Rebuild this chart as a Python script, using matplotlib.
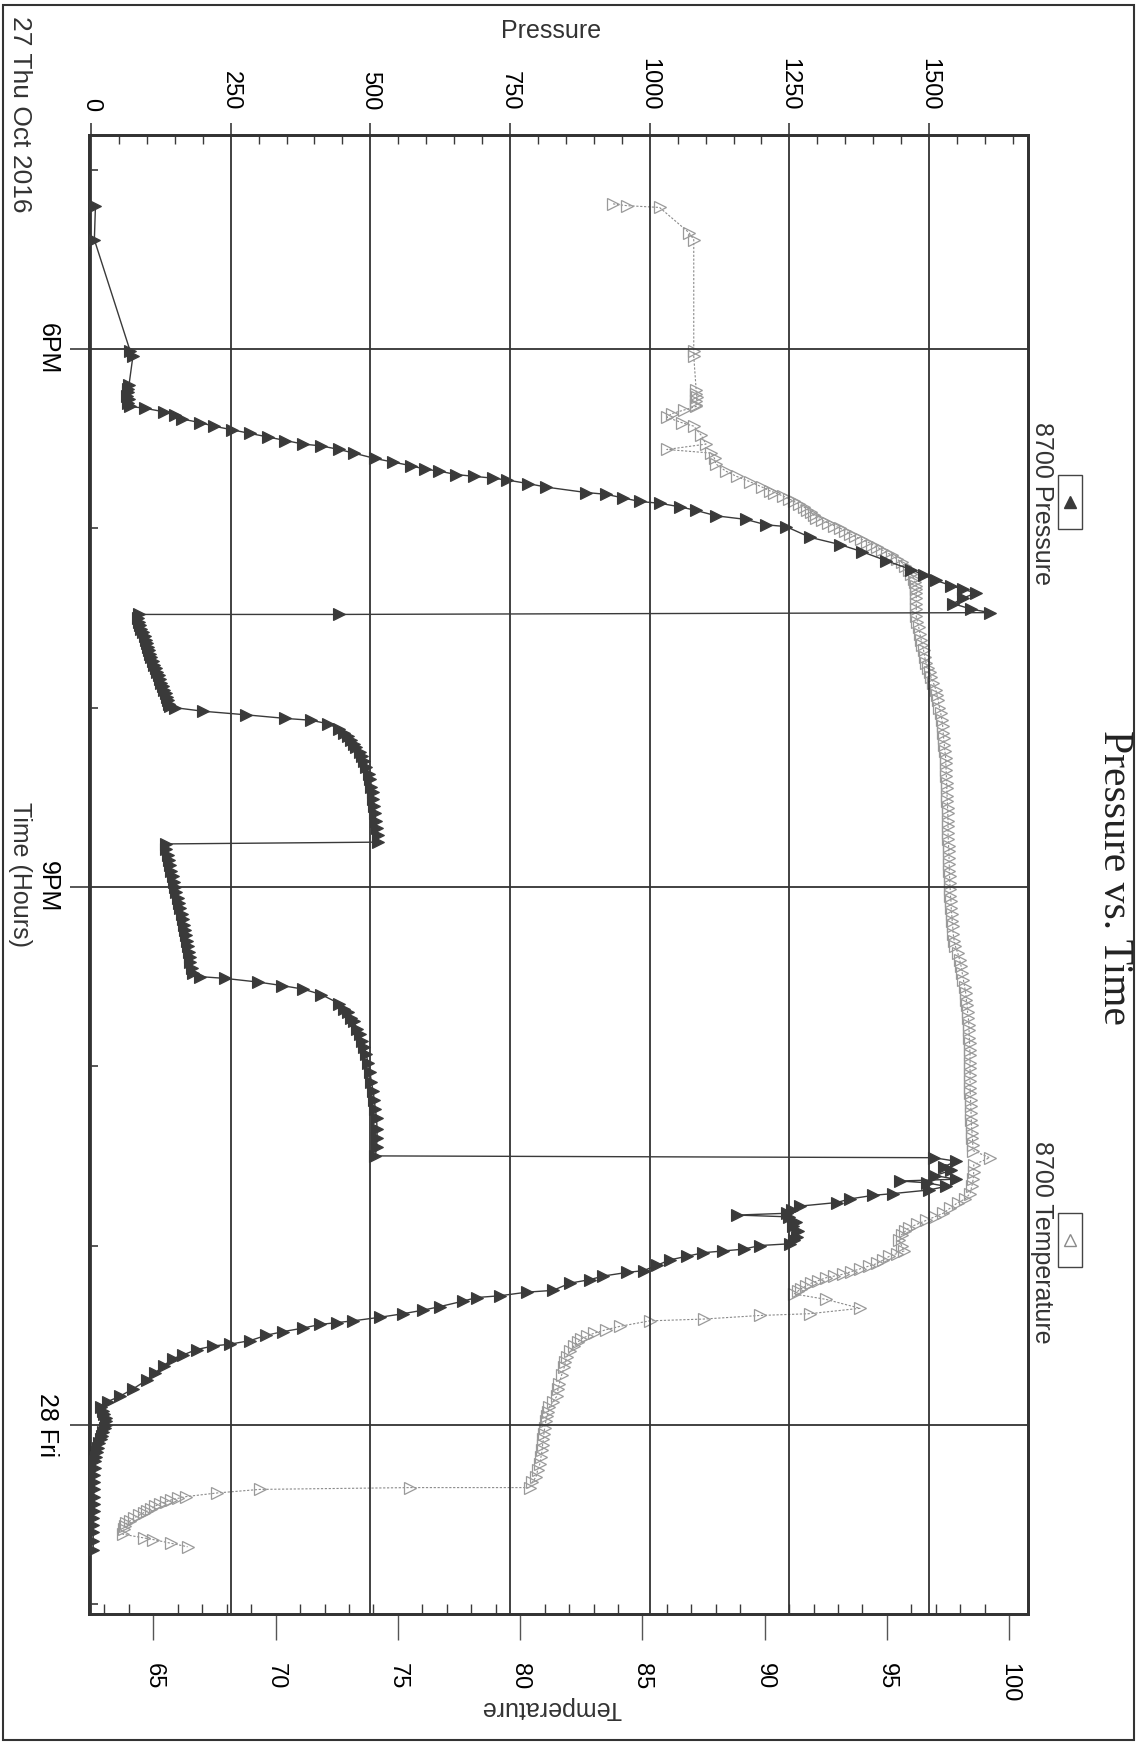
import matplotlib
matplotlib.use('Agg')
import matplotlib.pyplot as plt
from matplotlib.ticker import MultipleLocator
from matplotlib.patches import Rectangle
from matplotlib.lines import Line2D

plt.rcParams['font.family'] = ['Liberation Sans', 'DejaVu Sans']

# time in hours since 27 Oct 00:00
p_time = [17.20, 17.39, 18.01, 18.04, 18.20, 18.22, 18.24, 18.26, 18.28, 18.30, 18.32,
          18.33, 18.35, 18.37, 18.39, 18.41, 18.43, 18.45, 18.47, 18.49, 18.51, 18.53,
          18.54, 18.56, 18.58, 18.61, 18.63, 18.65, 18.67, 18.68, 18.70, 18.71, 18.72,
          18.73, 18.75, 18.77, 18.80, 18.81, 18.83, 18.85, 18.86, 18.88, 18.90, 18.93,
          18.95, 18.98, 18.99, 19.05, 19.09, 19.13, 19.18, 19.23, 19.26, 19.29, 19.32,
          19.34, 19.36, 19.39, 19.42, 19.45, 19.47, 19.48, 19.48,
          19.50, 19.52, 19.54, 19.56, 19.58, 19.60, 19.62, 19.64, 19.66, 19.68, 19.70,
          19.72, 19.74, 19.76, 19.78, 19.80, 19.82, 19.84, 19.86, 19.88, 19.90, 19.92,
          19.94, 19.96, 19.98, 19.99,
          20.00, 20.02, 20.04, 20.06, 20.07, 20.09, 20.12, 20.14, 20.16, 20.18, 20.20,
          20.22, 20.25, 20.27, 20.30, 20.33, 20.37, 20.40, 20.44, 20.47, 20.51, 20.55,
          20.59, 20.63, 20.67, 20.71, 20.75, 20.76,
          20.79, 20.82, 20.85, 20.88, 20.91, 20.94, 20.97, 21.00, 21.03, 21.06, 21.09,
          21.12, 21.15, 21.18, 21.21, 21.24, 21.27, 21.30, 21.33, 21.36, 21.39, 21.42,
          21.45, 21.48,
          21.50, 21.51, 21.53, 21.55, 21.57, 21.60, 21.65, 21.68, 21.70, 21.73, 21.75,
          21.79, 21.82, 21.86, 21.89, 21.93, 21.98, 22.03, 22.09, 22.14, 22.19, 22.24,
          22.29, 22.35, 22.40, 22.45, 22.50, 22.51,
          22.53, 22.56, 22.58, 22.61, 22.63, 22.64, 22.65, 22.67, 22.69, 22.71, 22.72,
          22.74, 22.76, 22.78, 22.80, 22.82, 22.83, 22.84, 22.87, 22.89, 22.92, 22.95,
          22.97, 22.99, 23.00, 23.02, 23.03, 23.04, 23.06, 23.08, 23.11, 23.14, 23.15,
          23.17, 23.19, 23.21, 23.25, 23.26, 23.28, 23.29, 23.31, 23.34, 23.36, 23.38,
          23.40, 23.42, 23.43, 23.44, 23.46, 23.48, 23.50, 23.53, 23.55, 23.56, 23.58,
          23.61, 23.63, 23.67, 23.71, 23.75, 23.80, 23.84, 23.87,
          23.90, 23.92, 23.94, 23.96, 23.98, 24.00, 24.02, 24.04, 24.06, 24.08, 24.10,
          24.13, 24.15, 24.18, 24.20, 24.24, 24.28, 24.32, 24.36, 24.40, 24.44, 24.48,
          24.52, 24.56, 24.60, 24.65, 24.70]
p_val = [8, 6, 70, 75, 68, 66, 67, 65, 68, 67, 70,
         96, 131, 150, 163, 195, 220, 252, 284, 316, 348, 380,
         412, 444, 470, 508, 540, 572, 598, 622, 654, 686, 719,
         744, 782, 815, 886, 922, 952, 982, 1018, 1054, 1083, 1119,
         1172, 1208, 1244, 1287, 1340, 1380, 1423, 1468, 1490, 1512, 1540,
         1561, 1584, 1560, 1543, 1575, 1609, 444, 86,
         84, 86, 88, 90, 93, 96, 98, 100, 102, 104, 106,
         108, 111, 113, 116, 118, 121, 124, 126, 129, 131, 134,
         136, 138, 140, 141,
         150, 201, 278, 348, 393, 425, 444, 452, 460, 465, 470,
         475, 481, 485, 489, 493, 497, 500, 502, 504, 505, 507,
         508, 510, 511, 513, 514, 134,
         135, 137, 139, 141, 144, 146, 149, 151, 153, 155, 158,
         160, 162, 164, 166, 168, 170, 172, 174, 175, 177, 178,
         180, 182,
         195, 240, 298, 342, 380, 412, 444, 453, 460, 465, 470,
         476, 481, 485, 489, 492, 496, 499, 502, 505, 507, 509,
         511, 512, 512, 511, 509, 1508,
         1549, 1526, 1540, 1510, 1549, 1448, 1496, 1530, 1500, 1436, 1400,
         1358, 1335, 1269, 1255, 1245, 1156, 1250, 1262, 1257, 1265, 1263,
         1258, 1251, 1197, 1168, 1132, 1096, 1066, 1036, 1013, 989, 959,
         917, 893, 857, 827, 780, 732, 690, 666, 625, 595, 559,
         517, 469, 440, 410, 380, 344, 314, 285, 249, 219, 189,
         165, 147, 130, 115, 100, 75, 52, 30,
         18, 22, 24, 26, 27, 26, 25, 22, 20, 17, 14,
         12, 10, 9, 8, 7, 6, 6, 5, 5, 5, 5,
         4, 4, 4, 4, 4]

t_time = [17.19, 17.20, 17.21, 17.35, 17.39, 18.01, 18.04, 18.23, 18.25, 18.27, 18.29,
          18.31, 18.32, 18.34, 18.36, 18.38, 18.41, 18.43, 18.48, 18.53, 18.56, 18.58,
          18.61, 18.64, 18.68, 18.71, 18.74,
          18.77, 18.79, 18.80, 18.82, 18.835, 18.85, 18.865, 18.88, 18.895, 18.91, 18.925,
          18.94, 18.955, 18.97, 18.985, 19.00, 19.015, 19.03, 19.045, 19.06, 19.075, 19.09,
          19.105, 19.12, 19.135, 19.15, 19.17, 19.19, 19.21, 19.23, 19.255, 19.28, 19.30,
          19.32, 19.34, 19.36, 19.39,
          19.42, 19.45, 19.49, 19.52, 19.55, 19.59, 19.62, 19.65, 19.68, 19.72, 19.75,
          19.78, 19.80, 19.83, 19.86, 19.90, 19.93, 19.96, 20.00, 20.03, 20.07, 20.10,
          20.14, 20.17, 20.21, 20.24, 20.28, 20.31, 20.35, 20.38, 20.42, 20.45, 20.49,
          20.52, 20.56, 20.59, 20.63, 20.66, 20.70, 20.73, 20.77, 20.80, 20.84, 20.87,
          20.91, 20.94, 20.98, 21.01, 21.05, 21.08, 21.12, 21.15, 21.19, 21.22, 21.26,
          21.30, 21.33, 21.37, 21.41, 21.44, 21.48, 21.52, 21.56, 21.59, 21.63, 21.66,
          21.70, 21.73, 21.77, 21.80, 21.84, 21.87, 21.91, 21.94, 21.98, 22.01, 22.05,
          22.08, 22.12, 22.15, 22.19, 22.22, 22.26, 22.30, 22.33, 22.37, 22.40, 22.44,
          22.47, 22.51, 22.55, 22.59, 22.63, 22.67,
          22.71, 22.74, 22.76, 22.79, 22.82, 22.84, 22.86, 22.88, 22.90, 22.92, 22.94,
          22.97, 23.00, 23.03, 23.045, 23.06, 23.08, 23.10, 23.115, 23.13, 23.145, 23.16,
          23.17, 23.18, 23.195, 23.21, 23.225, 23.24, 23.255, 23.27,
          23.30, 23.35, 23.38, 23.39, 23.41, 23.42,
          23.45, 23.47, 23.49, 23.505, 23.52, 23.54, 23.56, 23.59, 23.62, 23.65, 23.68,
          23.72, 23.77, 23.80, 23.84, 23.87, 23.90, 23.93, 23.95, 23.98, 24.02, 24.05,
          24.08, 24.11, 24.14, 24.18, 24.22, 24.25, 24.29, 24.32, 24.35,
          24.35, 24.36, 24.38, 24.40, 24.41, 24.42, 24.43, 24.44, 24.455, 24.47, 24.48,
          24.49, 24.505, 24.52, 24.535, 24.55, 24.565, 24.58, 24.61, 24.63, 24.64, 24.66,
          24.68]
t_val = [83.8, 84.35, 85.7, 86.9, 87.1, 87.1, 87.1, 87.2, 87.2, 87.25, 87.2,
         87.2, 87.2, 86.7, 86.2, 86.0, 86.6, 87.1, 87.4, 87.6, 86.0, 87.8,
         87.95, 88.0, 88.4, 88.85, 89.4,
         89.9, 90.2, 90.4, 90.75, 91.0, 91.2, 91.4, 91.6, 91.75, 91.9, 92.0,
         92.1, 92.35, 92.6, 92.85, 93.1, 93.3, 93.5, 93.7, 93.95, 94.2, 94.4,
         94.6, 94.8, 95.0, 95.2, 95.4, 95.6, 95.75, 95.9, 96.0, 96.1, 96.15,
         96.2, 96.2, 96.2, 96.2,
         96.2, 96.2, 96.2, 96.25, 96.3, 96.35, 96.4, 96.45, 96.5, 96.55, 96.6,
         96.7, 96.75, 96.8, 96.9, 97.0, 97.05, 97.1, 97.15, 97.2, 97.25, 97.28,
         97.3, 97.32, 97.35, 97.37, 97.4, 97.41, 97.42, 97.43, 97.44, 97.45, 97.46,
         97.47, 97.48, 97.49, 97.5, 97.5, 97.5, 97.51, 97.52, 97.53, 97.54, 97.55,
         97.55, 97.56, 97.57, 97.58, 97.6, 97.62, 97.63, 97.65, 97.67, 97.69, 97.71,
         97.75, 97.8, 97.9, 97.98, 98.03, 98.08, 98.13, 98.18, 98.22, 98.25, 98.28,
         98.3, 98.33, 98.35, 98.36, 98.37, 98.38, 98.39, 98.4, 98.4, 98.4, 98.4,
         98.4, 98.4, 98.41, 98.42, 98.43, 98.44, 98.45, 98.46, 98.48, 98.5, 98.51,
         98.52, 99.2, 98.55, 98.55, 98.53, 98.47,
         98.4, 98.2, 97.9, 97.6, 97.3, 96.95, 96.6, 96.25, 95.9, 95.75, 95.6,
         95.5, 95.6, 95.7, 95.4, 95.1, 94.85, 94.6, 94.25, 93.9, 93.55, 93.2,
         92.85, 92.5, 92.2, 91.9, 91.7, 91.5, 91.35, 91.2,
         92.5, 93.9, 91.85, 89.8, 87.5, 85.3,
         84.1, 83.5, 83.0, 82.75, 82.5, 82.35, 82.2, 82.05, 81.9, 81.85, 81.8,
         81.7, 81.6, 81.55, 81.5, 81.35, 81.2, 81.15, 81.1, 81.05, 81.0, 80.97,
         80.95, 80.92, 80.9, 80.85, 80.8, 80.72, 80.65, 80.5, 80.4,
         75.5, 69.35, 67.6, 66.35, 66.0, 65.7, 65.5, 65.25, 65.05, 64.9, 64.75,
         64.6, 64.4, 64.2, 64.05, 63.9, 63.85, 63.8, 63.75, 64.6, 65.0, 65.7,
         66.4]

p_ticks = [0, 250, 500, 750, 1000, 1250, 1500]
t_ticks = [65, 70, 75, 80, 85, 90, 95, 100]
time_ticks = [18, 21, 24]
time_labels = ['6PM', '9PM', '28 Fri']

W, H = 1144, 1744
fig = plt.figure(figsize=(W / 100, H / 100), dpi=100)


def fx(px):
    return px / W


def fy(py):
    return 1 - py / H


ax = fig.add_axes([fx(88.6), fy(1614), fx(1028) - fx(88.6), fy(135) - fy(1614)])
ax2 = ax.twiny()
ax.set_zorder(ax2.get_zorder() + 1)
ax.patch.set_visible(False)

dark = '#3a3a3a'
ax.plot(p_val, p_time, color=dark, lw=1.0, marker='>', ms=8,
        mfc=dark, mec=dark, mew=0.8, zorder=4)
ax2.plot(t_val, t_time, color='#8a8a8a', lw=0.8, ls=(0, (2, 1.5)), marker='>',
         ms=9, mfc='none', mec='#9a9a9a', mew=0.9)

ax.set_xlim(-4.3, 1677)
ax.set_ylim(25.055, 16.806)
ax2.set_xlim(62.35, 100.77)

ax.xaxis.tick_top()
ax.set_xticks(p_ticks)
ax.xaxis.set_minor_locator(MultipleLocator(50))
ax.tick_params(axis='x', which='major', direction='out', length=8.5, width=1.2,
               pad=9, labelsize=17, labelrotation=-90, color=dark)
ax.tick_params(axis='x', which='minor', direction='in', length=6.5, width=1.0, color=dark)

ax.set_yticks(time_ticks, time_labels)
ax.yaxis.set_minor_locator(MultipleLocator(1))
ax.tick_params(axis='y', which='major', direction='out', length=14, width=1.2,
               pad=7, labelsize=18, labelrotation=-90, color=dark)
ax.tick_params(axis='y', which='minor', direction='in', length=6.5, width=1.2, color=dark)
for lab in ax.get_yticklabels():
    lab.set_va('center')

ax2.xaxis.tick_bottom()
ax2.set_xticks(t_ticks)
ax2.xaxis.set_minor_locator(MultipleLocator(1))
ax2.tick_params(axis='x', which='major', direction='out', length=19, width=1.0,
                pad=16, labelsize=17, labelrotation=-90, color='#555555')
ax2.tick_params(axis='x', which='minor', direction='in', length=7, width=1.0, color=dark)

ax.grid(True, which='major', color='#333333', lw=1.3)
for a in (ax, ax2):
    for s in a.spines.values():
        s.set_color('#333333')
        s.set_linewidth(2)

fig.text(fx(551), fy(31), 'Pressure', fontsize=18, ha='center', va='center', color='#333333')
fig.text(fx(551), fy(1708), 'Temperature', fontsize=18, ha='center', va='center',
         rotation=180, color='#333333')
fig.text(fx(20), fy(875), 'Time (Hours)', fontsize=18, ha='center', va='center',
         rotation=-90, color='#333333')
fig.text(fx(20), fy(114), '27 Thu Oct 2016', fontsize=19, ha='center', va='center',
         rotation=-90, color='#333333')
fig.text(fx(1114), fy(877), 'Pressure vs. Time', fontsize=30, ha='center', va='center',
         rotation=-90, family='Liberation Serif', color='#222222')

fig.text(fx(1042), fy(504), '8700 Pressure', fontsize=18, ha='center', va='center',
         rotation=-90, color='#333333')
fig.text(fx(1042), fy(1242), '8700 Temperature', fontsize=18, ha='center', va='center',
         rotation=-90, color='#333333')

for cy, face, edge in [(502, dark, dark), (1240, 'none', '#8a8a8a')]:
    fig.add_artist(Rectangle((fx(1058), fy(cy + 27)), fx(1082) - fx(1058), 54 / H,
                             fill=False, lw=1.0, ec='#444444', transform=fig.transFigure))
    fig.add_artist(Line2D([fx(1070)], [fy(cy)], marker='^', ms=9, mfc=face, mec=edge,
                          transform=fig.transFigure))

fig.add_artist(Rectangle((fx(3), fy(1740)), fx(1134) - fx(3), (1740 - 5) / H,
                         fill=False, lw=1.5, ec='#333333', transform=fig.transFigure))

fig.savefig('out.png', dpi=100)
